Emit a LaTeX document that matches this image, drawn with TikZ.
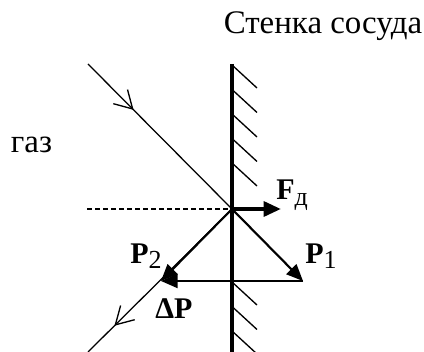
\documentclass[tikz,border=0pt]{standalone}
\usepackage{fontspec}
\setmainfont{Liberation Serif}
\usetikzlibrary{arrows.meta,decorations.markings}
\newcommand{\idx}[1]{\raisebox{-4pt}{\mdseries\fontsize{19.5}{21}\selectfont #1}}

\begin{document}
\begin{tikzpicture}[x=0.75pt,y=-0.75pt,
    ray/.style={line width=0.95pt},
    barb/.style={postaction={decorate},decoration={markings,
        mark=at position #1 with {\draw[line width=1pt] (-13pt,7.5pt) -- (0pt,0pt) -- (-13pt,-7.5pt);}}},
    vec/.style={line width=1.6pt,-{Triangle[length=12.5pt,width=10.5pt]}},
    lbl/.style={inner sep=0pt,anchor=base west,font=\fontsize{22.5}{26}\selectfont\bfseries},
    txt/.style={inner sep=0pt,anchor=base,font=\fontsize{24.7}{28}\selectfont}
    ]
    \useasboundingbox (0,0) rectangle (424,352);
    % points
    \coordinate (O) at (232,209);
    \coordinate (in) at (88,64);
    \coordinate (out) at (88,352);
    \coordinate (p1) at (303,281);
    \coordinate (p2) at (161,281);
    \coordinate (f) at (281,209);
    \coordinate (dash) at (87,209);
    \coordinate (wtop) at (232,64);
    \coordinate (wbot) at (232,360);
    % wall
    \foreach \y in {65,89.5,114,138.5,163,282,306.5,331}
        \draw[line width=1pt] (232,\y) -- ++(25,23);
    \draw[line width=2.3pt] (wtop) -- (wbot);
    % rays
    \draw[ray,barb=0.31] (in) -- (O);
    \draw[ray,barb=0.81] (O) -- (out);
    \draw[line width=0.9pt,dash pattern=on 3.5pt off 2.5pt] (dash) -- (O);
    % vectors
    \draw[vec] (O) -- (p1);
    \draw[vec] (O) -- (p2);
    \draw[vec] (p1) -- (p2);
    \draw[line width=3pt,-{Triangle[length=13pt,width=11pt]}] (O) -- (f);
    % labels
    \node[txt] (title) at (323,34) {Стенка сосуда};
    \node[txt] (gas) at (31.5,153) {газ};
    \node[lbl] (lF) at (276,200) {F\idx{д}};
    \node[lbl] (lP1) at (305,263) {P\idx{1}};
    \node[lbl] (lP2) at (130,263) {P\idx{2}};
    \node[lbl] (ldP) at (155,318) {ΔP};
\end{tikzpicture}
\end{document}
